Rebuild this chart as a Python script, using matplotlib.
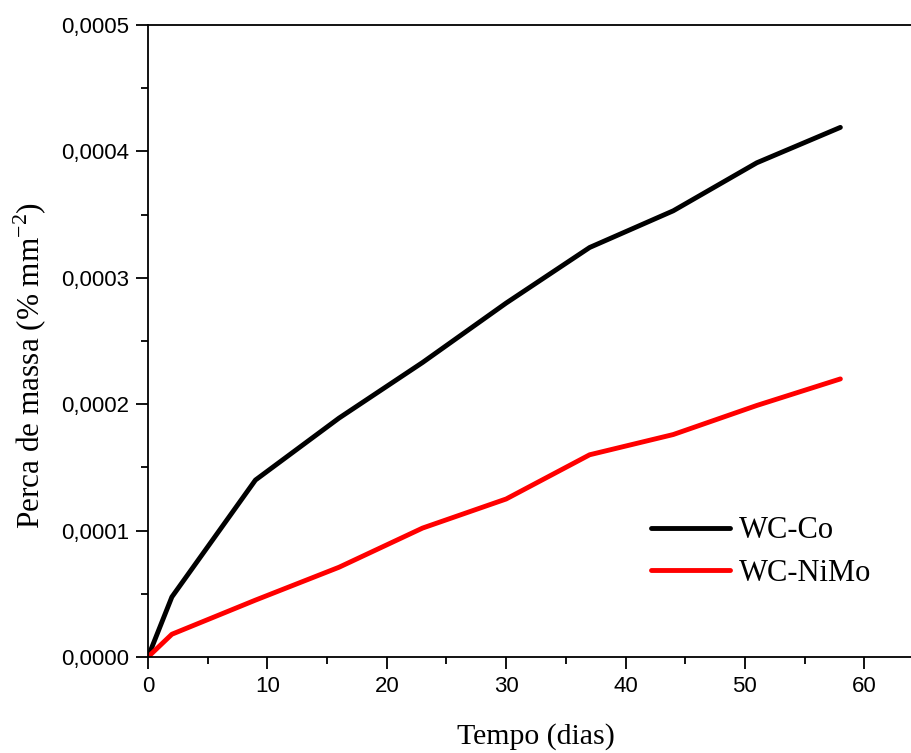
import matplotlib
matplotlib.use("Agg")
import matplotlib.pyplot as plt
from matplotlib.ticker import MultipleLocator, FuncFormatter

plt.rcParams["mathtext.fontset"] = "custom"
plt.rcParams["mathtext.rm"] = "Liberation Serif"

dias = [0, 2, 9, 16, 23, 30, 37, 44, 51, 58]
wc_co = [0, 0.0000475, 0.000140, 0.000189, 0.000233, 0.000280, 0.000324, 0.000353, 0.000391, 0.000419]
wc_nimo = [0, 0.000018, 0.000045, 0.000071, 0.000102, 0.000125, 0.000160, 0.000176, 0.000199, 0.000220]

fig = plt.figure(figsize=(9.12, 7.53), dpi=100)
ax = fig.add_axes([148/912, 96/753, 1 - 148/912, (657-25)/753])

ax.plot(dias, wc_co, color="black", lw=3.5, solid_capstyle="round", solid_joinstyle="round", label="WC-Co")
ax.plot(dias, wc_nimo, color="#ff0000", lw=3.5, solid_capstyle="round", solid_joinstyle="round", label="WC-NiMo")

ax.set_xlim(0, 64)
ax.set_ylim(0, 0.0005)
ax.xaxis.set_major_locator(MultipleLocator(10))
ax.xaxis.set_minor_locator(MultipleLocator(5))
ax.yaxis.set_major_locator(MultipleLocator(0.0001))
ax.yaxis.set_minor_locator(MultipleLocator(0.00005))
ax.yaxis.set_major_formatter(FuncFormatter(lambda v, p: f"{v:.4f}".replace(".", ",")))
ax.xaxis.set_major_formatter(FuncFormatter(lambda v, p: f"{v:.0f}"))

for s in ax.spines.values():
    s.set_linewidth(1.3)
ax.spines["right"].set_visible(False)

ax.tick_params(which="major", direction="out", length=8.5, width=1.3, labelsize=16, pad=5)
ax.tick_params(which="minor", direction="out", length=5, width=1.3)
ax.tick_params(top=False, right=False, which="both")
for lab in ax.get_xticklabels() + ax.get_yticklabels():
    lab.set_fontfamily("Liberation Sans")

ax.set_xlabel("Tempo (dias)", fontfamily="Liberation Serif", fontsize=21.5)
ax.xaxis.set_label_coords(0.508, -0.104)
ax.set_ylabel("Perca de massa (% mm$^{\\mathregular{-2}}$)", fontfamily="Liberation Serif", fontsize=22.5)
ax.yaxis.set_label_coords(-0.130, 0.462)

leg = ax.legend(loc="upper left", bbox_to_anchor=(0.622, 0.266), frameon=False,
                prop={"family": "Liberation Serif", "size": 22},
                handlelength=2.6, handletextpad=0.3, labelspacing=0.45)

fig.savefig("out.png", dpi=100)
